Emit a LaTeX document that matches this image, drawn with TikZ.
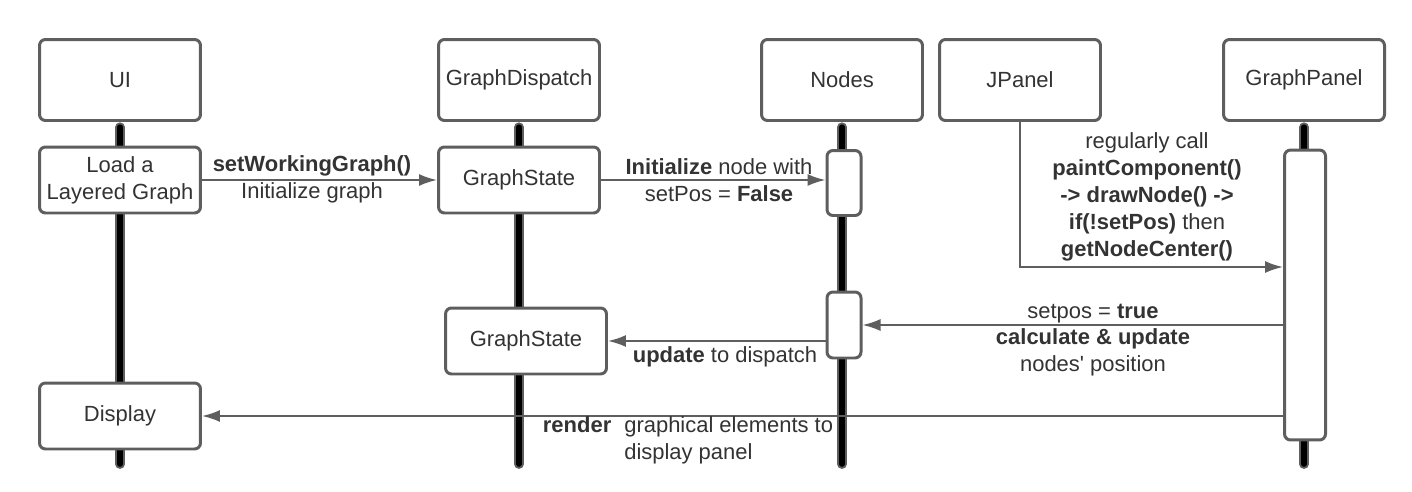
\documentclass[tikz,border=0pt]{standalone}
\usepackage{fontspec}
\setmainfont{Liberation Sans}
\usetikzlibrary{arrows.meta}
\definecolor{linegray}{HTML}{5E5E5E}
\definecolor{textgray}{HTML}{333333}

\begin{document}
\begin{tikzpicture}[x=0.02cm,y=-0.02cm,
  every node/.style={font=\fontsize{12.5}{15.3}\selectfont,text=textgray},
  head/.style={draw=linegray,line width=1.7pt,fill=white,rounded corners=0.12cm,minimum width=3.22cm,minimum height=1.62cm,inner sep=0pt},
  box/.style={head,minimum height=1.32cm,align=center},
  act/.style={draw=linegray,line width=1.7pt,fill=white,rounded corners=0.12cm,minimum width=0.68cm,inner sep=0pt},
  lifeline/.style={line width=5.6pt,draw=linegray,line cap=round,postaction={draw=black,line width=3.2pt}},
  msg/.style={draw=linegray,line width=1.1pt,-{Latex[length=0.36cm,width=0.24cm]}},
]
\useasboundingbox (0,0) rectangle (1412,491);
\def\yhead{80}\def\yend{464}
% participants
\node[head] (ui) at (120,\yhead) {UI};
\node[head] (gd) at (519,\yhead) {GraphDispatch};
\node[head] (nd) at (842,\yhead) {Nodes};
\node[head] (jp) at (1020,\yhead) {JPanel};
\node[head] (gp) at (1304,\yhead) {GraphPanel};
% lifelines
\foreach \n in {ui,gd,nd,gp} {
  \coordinate (\n-end) at (\n.south |- 0,\yend);
  \draw[lifeline] ([yshift=-3pt]\n.south) -- (\n-end);
}
% boxes on the lifelines
\node[box] (load) at (120,180) {Load a\\Layered Graph};
\node[box] (gs1) at (519,180) {GraphState};
\node[act,minimum height=1.3cm] (act1) at (844,183) {};
\node[act,minimum height=1.32cm] (act2) at (844,325) {};
\node[act,minimum width=0.82cm,minimum height=5.8cm] (gpact) at (1305,295) {};
\node[box] (gs2) at (526,341) {GraphState};
\node[box] (disp) at (120,416) {Display};
% messages
\draw[msg] (load) -- (gs1);
\draw[msg] (gs1.east) -- (gs1.east -| act1.west);
\draw[msg] (jp.south) |- ([yshift=0.56cm]gpact.west);
\draw[msg] (act2.east -| gpact.west) -- (act2.east);
\draw[msg] (gs2.east -| act2.west) -- (gs2.east);
\draw[msg] (disp.east -| gpact.west) -- (disp.east);
% message labels
\node[align=center] (l-swg) at (312,179) {\textbf{setWorkingGraph()}\\Initialize graph};
\node[align=center] (l-init) at (719,180) {\textbf{Initialize} node with\\setPos = \textbf{False}};
\node[align=center] (l-paint) at (1147,197) {regularly call\\\textbf{paintComponent()}\\\textbf{-> drawNode() ->}\\\textbf{if(!setPos)} then\\\textbf{getNodeCenter()}};
\node[align=center] (l-calc) at (1093,340) {setpos = \textbf{true}\\\textbf{calculate \& update}\\nodes\textquotesingle\ position};
\node (l-upd) at (725,357) {\textbf{update} to dispatch};
\node[inner sep=0pt] (l-render) at (688,441) {\begin{tabular}{@{}l@{\hspace{0.26cm}}l@{}}\textbf{render} & graphical elements to\\ & display panel\end{tabular}};
\end{tikzpicture}
\end{document}
